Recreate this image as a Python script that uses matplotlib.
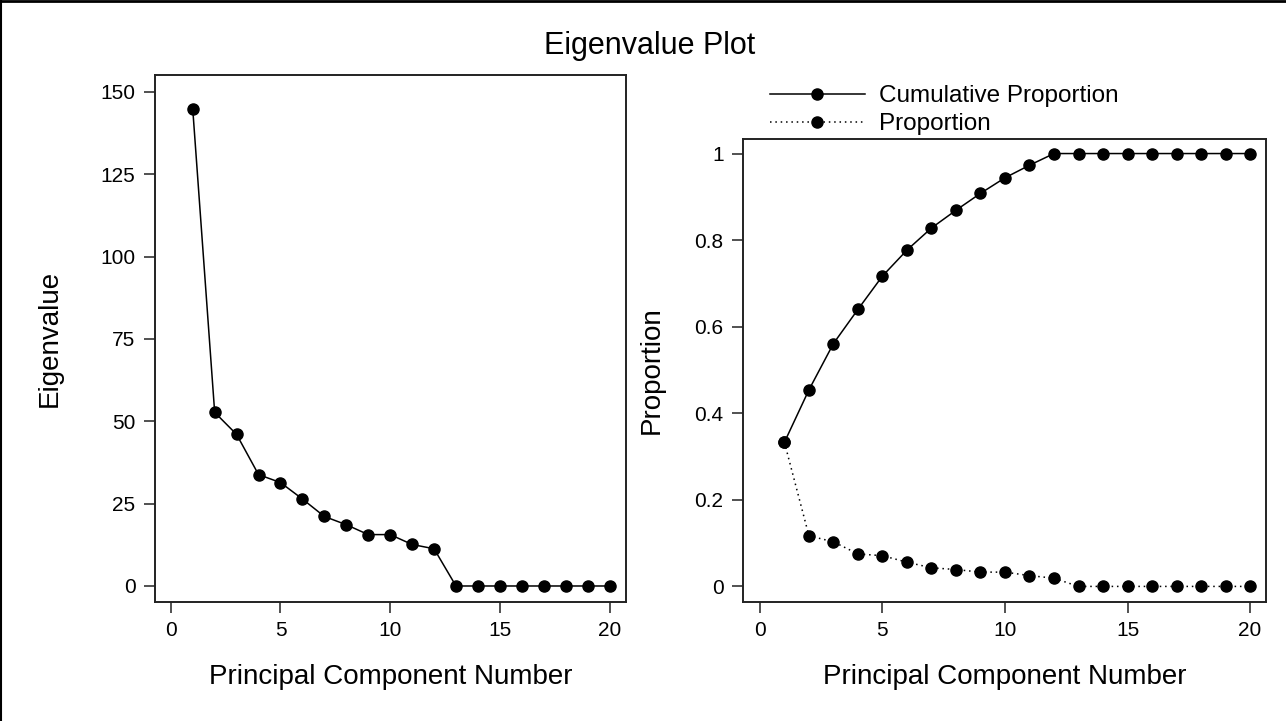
import numpy as np
import matplotlib
matplotlib.use("Agg")
import matplotlib.pyplot as plt
from matplotlib.lines import Line2D

plt.rcParams['font.family'] = ['Liberation Sans', 'DejaVu Sans']

# données
composantes = list(range(1, 21))
valeurs_propres = [144.8, 52.7, 46.0, 33.8, 31.4, 26.4, 21.1, 18.6, 15.6, 15.6,
                   12.6, 11.3, 0, 0, 0, 0, 0, 0, 0, 0]
proportion = [0.333, 0.117, 0.103, 0.075, 0.071, 0.056, 0.043, 0.039, 0.033, 0.033,
              0.025, 0.019, 0, 0, 0, 0, 0, 0, 0, 0]
proportion_cumulee = [0.333, 0.454, 0.561, 0.640, 0.717, 0.777, 0.828, 0.869, 0.908, 0.944,
                      0.973, 1.0, 1.0, 1.0, 1.0, 1.0, 1.0, 1.0, 1.0, 1.0]
ticks_x = [0, 5, 10, 15, 20]
ticks_vp = [0, 25, 50, 75, 100, 125, 150]
ticks_prop = [0, 0.2, 0.4, 0.6, 0.8, 1]
labels_prop = ['0', '0.2', '0.4', '0.6', '0.8', '1']

W, H = 1286, 721
fig = plt.figure(figsize=(W / 100, H / 100), dpi=100)

# bord de l'image (haut et gauche seulement)
fig.add_artist(Line2D([0, 1], [1 - 1 / H, 1 - 1 / H], transform=fig.transFigure,
                      color='black', linewidth=2))
fig.add_artist(Line2D([0.5 / W, 0.5 / W], [0, 1], transform=fig.transFigure,
                      color='black', linewidth=1.5))

def pos(x0, y0, x1, y1):
    # rectangle en pixels (origine en haut à gauche) -> coordonnées figure
    return [x0 / W, 1 - y1 / H, (x1 - x0) / W, (y1 - y0) / H]

ax1 = fig.add_axes(pos(155, 75, 626, 602))
ax2 = fig.add_axes(pos(743, 139, 1266, 602))

style = dict(color='black', marker='o', markersize=8, linewidth=1.1)

ax1.plot(composantes, valeurs_propres, linestyle='-', **style)
ax1.set_xlim(-0.72, 20.75)
ax1.set_ylim(-4.86, 155.1)
ax1.set_xticks(ticks_x)
ax1.set_yticks(ticks_vp)
ax1.set_xlabel('Principal Component Number', fontsize=20)
ax1.set_ylabel('Eigenvalue', fontsize=20)

l1, = ax2.plot(composantes, proportion_cumulee, linestyle='-', **style)
l2, = ax2.plot(composantes, proportion, linestyle=(0, (1, 2.5)), **style)
ax2.set_xlim(-0.69, 20.65)
ax2.set_ylim(-0.036, 1.0336)
ax2.set_xticks(ticks_x)
ax2.set_yticks(ticks_prop)
ax2.set_yticklabels(labels_prop)
ax2.set_xlabel('Principal Component Number', fontsize=20)
ax2.set_ylabel('Proportion', fontsize=20)

for ax, xg, yl in ((ax1, 155, 50), (ax2, 743, 652)):
    bb = ax.get_position()
    hpx = bb.height * H
    wpx = bb.width * W
    ax.xaxis.set_label_coords(0.5, -(677 - 602) / hpx)
    ax.xaxis.label.set_va('center')
    ax.yaxis.set_label_coords(-(xg - yl) / wpx, 0.5)
    ax.yaxis.label.set_va('center')
    ax.tick_params(labelsize=15, length=8, width=1.1, color='#222222', pad=6)
    for s in ax.spines.values():
        s.set_linewidth(1.4)
        s.set_color('#222222')

fig.legend([l1, l2], ['Cumulative Proportion', 'Proportion'],
           loc='upper left', bbox_to_anchor=(770 / W, 1 - 85 / H),
           frameon=False, fontsize=17.5, handlelength=3.9, handletextpad=0.6,
           labelspacing=0.25, borderpad=0, borderaxespad=0)

fig.text(650 / W, 1 - 46 / H, 'Eigenvalue Plot', ha='center', va='center', fontsize=22)

fig.savefig('out.png', dpi=100)
